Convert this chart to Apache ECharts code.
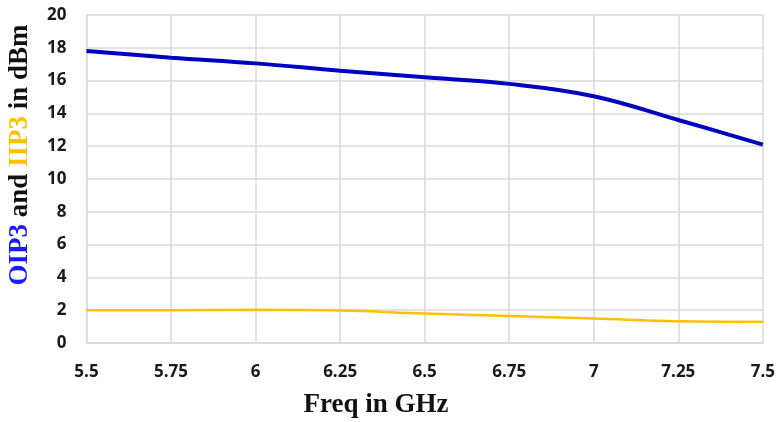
<!DOCTYPE html>
<html>
<head>
<meta charset="utf-8">
<script src="https://cdn.jsdelivr.net/npm/echarts@6/dist/echarts.min.js"></script>
<style>
  html, body { margin: 0; padding: 0; background: #fff; }
  #chart { width: 778px; height: 422px; }
</style>
</head>
<body>
<div id="chart"></div>
<script>
// values
var freq = [5.5, 5.75, 6, 6.25, 6.5, 6.75, 7, 7.25, 7.5];
var oip3 = [17.8, 17.4, 17.05, 16.6, 16.2, 15.8, 15.05, 13.6, 12.1];
var iip3 = [2.0, 2.0, 2.02, 1.98, 1.8, 1.65, 1.5, 1.33, 1.3];

var chart = echarts.init(document.getElementById('chart'));

var tickFont = {
  color: '#1a1a1a',
  fontWeight: 'bold',
  fontSize: 17,
  fontFamily: 'Open Sans'
};

var option = {
  animation: false,
  grid: { left: 86.5, right: 15, top: 15, bottom: 79 },
  xAxis: {
    type: 'value',
    min: 5.5,
    max: 7.5,
    interval: 0.25,
    axisLine: { lineStyle: { color: '#d9d9d9', width: 1.5 } },
    axisTick: { show: false },
    splitLine: { show: true, lineStyle: { color: '#d9d9d9', width: 1.5 } },
    axisLabel: Object.assign({ margin: 21 }, tickFont)
  },
  yAxis: {
    type: 'value',
    min: 0,
    max: 20,
    interval: 2,
    axisLine: { show: true, lineStyle: { color: '#d9d9d9', width: 1.5 } },
    axisTick: { show: false },
    splitLine: { lineStyle: { color: '#d9d9d9', width: 1.5 } },
    axisLabel: Object.assign({ margin: 20 }, tickFont)
  },
  series: [
    {
      name: 'OIP3',
      type: 'line',
      smooth: 0.4,
      symbol: 'none',
      data: freq.map(function (f, i) { return [f, oip3[i]]; }),
      lineStyle: { color: '#0000c0', width: 4 }
    },
    {
      name: 'IIP3',
      type: 'line',
      smooth: 0.4,
      symbol: 'none',
      data: freq.map(function (f, i) { return [f, iip3[i]]; }),
      lineStyle: { color: '#ffc000', width: 2.5 }
    }
  ],
  graphic: [
    {
      type: 'text',
      x: 376,
      y: 405,
      style: {
        text: 'Freq in GHz',
        fill: '#111',
        font: 'bold 27px "Liberation Serif"',
        textAlign: 'center',
        textVerticalAlign: 'middle'
      }
    },
    {
      type: 'text',
      x: 20,
      y: 155,
      rotation: Math.PI / 2,
      style: {
        text: '{b|OIP3} and {y|IIP3} in dBm',
        fill: '#111',
        font: 'bold 27px "Liberation Serif"',
        textAlign: 'center',
        textVerticalAlign: 'middle',
        rich: {
          b: { fill: '#1a1aff', font: 'bold 27px "Liberation Serif"' },
          y: { fill: '#ffc000', font: 'bold 27px "Liberation Serif"' }
        }
      }
    }
  ]
};

chart.setOption(option);
</script>
</body>
</html>
